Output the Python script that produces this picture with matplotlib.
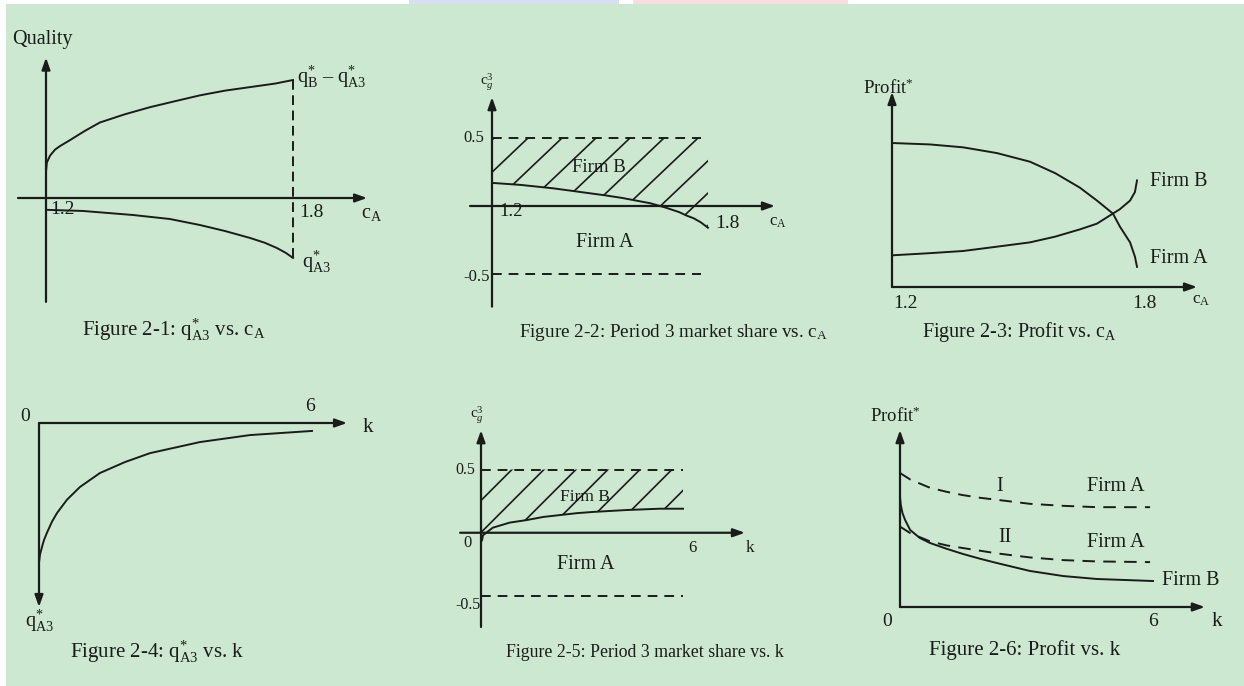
import numpy as np
import matplotlib.pyplot as plt
from matplotlib.collections import LineCollection
from matplotlib.patches import Rectangle

W, H = 1244, 686
BG = '#cde8d0'
INK = '#1a1c1a'

plt.rcParams['font.family'] = ['Liberation Serif', 'DejaVu Serif']
plt.rcParams['mathtext.fontset'] = 'custom'
plt.rcParams['mathtext.rm'] = 'Liberation Serif'
plt.rcParams['mathtext.it'] = 'Liberation Serif:italic'
plt.rcParams['lines.scale_dashes'] = False

# Figure 2-1: quality vs c_A
c_a1_up = [1.20, 1.202, 1.21, 1.222, 1.234, 1.258, 1.295, 1.331, 1.392, 1.453,
           1.513, 1.574, 1.635, 1.696, 1.757, 1.80]
q_gap_1 = [0.22, 0.30, 0.36, 0.41, 0.44, 0.49, 0.57, 0.64, 0.71, 0.77,
           0.82, 0.87, 0.91, 0.94, 0.97, 1.00]
c_a1_lo = [1.20, 1.29, 1.411, 1.501, 1.574, 1.635, 1.696, 1.732, 1.761, 1.783, 1.80]
q_a3_1 = [-0.10, -0.11, -0.144, -0.178, -0.229, -0.28, -0.339, -0.38, -0.424, -0.466, -0.508]

# Figure 2-2: period 3 market share vs c_A
c_a2 = [1.20, 1.28, 1.37, 1.44, 1.51, 1.56, 1.60, 1.64, 1.68, 1.72, 1.74, 1.76, 1.78, 1.80]
share_2 = [0.17, 0.155, 0.13, 0.105, 0.08, 0.06, 0.04, 0.02, -0.01, -0.045, -0.07, -0.09, -0.12, -0.16]

# Figure 2-3: profit vs c_A
c_a3 = [1.20, 1.293, 1.374, 1.457, 1.538, 1.60, 1.66, 1.702, 1.741, 1.758, 1.783, 1.795, 1.80]
profit_a3 = [1.00, 0.99, 0.97, 0.93, 0.87, 0.79, 0.69, 0.60, 0.51, 0.42, 0.31, 0.21, 0.14]
profit_b3 = [0.22, 0.235, 0.25, 0.28, 0.31, 0.35, 0.40, 0.44, 0.51, 0.54, 0.60, 0.66, 0.74]

# Figure 2-4: q*_A3 vs k
k4 = [0.0, 0.022, 0.066, 0.11, 0.176, 0.286, 0.396, 0.615, 0.90, 1.34, 1.89, 2.44, 3.54, 4.64, 6.0]
q_a3_4 = [-1.02, -0.96, -0.905, -0.854, -0.80, -0.72, -0.657, -0.56, -0.467, -0.365,
          -0.285, -0.22, -0.139, -0.088, -0.058]

# Figure 2-5: period 3 market share vs k
k5 = [0.03, 0.06, 0.35, 0.85, 1.35, 1.85, 2.35, 2.85, 3.35, 4.35, 5.3, 6.0]
share_5 = [-0.06, -0.02, 0.04, 0.08, 0.10, 0.125, 0.14, 0.155, 0.165, 0.18, 0.19, 0.19]

# Figure 2-6: profit vs k
k6 = [0.0, 0.25, 0.71, 1.1, 1.49, 1.9, 2.30, 3.08, 3.87, 4.67, 5.93]
profit_a6_1 = [1.00, 0.95, 0.89, 0.86, 0.835, 0.815, 0.80, 0.77, 0.755, 0.745, 0.745]
profit_a6_2 = [0.60, 0.55, 0.49, 0.46, 0.44, 0.42, 0.40, 0.37, 0.35, 0.34, 0.335]
k6b = [0.0, 0.02, 0.06, 0.12, 0.24, 0.47, 0.71, 1.1, 1.49, 1.9, 2.30, 3.08, 3.87, 4.67, 6.0]
profit_b6 = [0.82, 0.76, 0.70, 0.65, 0.575, 0.515, 0.478, 0.435, 0.396, 0.36, 0.328,
             0.269, 0.231, 0.209, 0.194]

fig = plt.figure(figsize=(W / 100, H / 100), dpi=100, facecolor='white')
fig.patches.append(Rectangle((6 / W, 0), 1 - 6 / W, 1 - 4 / H, transform=fig.transFigure,
                             facecolor=BG, edgecolor='none', zorder=-10))
fig.patches.append(Rectangle((409 / W, 1 - 4 / H), 210 / W, 4 / H, transform=fig.transFigure,
                             facecolor='#d6e0f0', edgecolor='none', zorder=-10))
fig.patches.append(Rectangle((633 / W, 1 - 4 / H), 215 / W, 4 / H, transform=fig.transFigure,
                             facecolor='#f8dde0', edgecolor='none', zorder=-10))


def panel(box, xref, yref):
    # box in pixels (left, top, right, bottom); refs map pixel -> data value
    l, t, r, b = box
    ax = fig.add_axes([l / W, 1 - b / H, (r - l) / W, (b - t) / H])
    (px0, v0), (px1, v1) = xref
    sx = (v1 - v0) / (px1 - px0)
    ax.set_xlim(v0 + (l - px0) * sx, v0 + (r - px0) * sx)
    (py0, w0), (py1, w1) = yref
    sy = (w1 - w0) / (py1 - py0)
    ax.set_ylim(w0 + (b - py0) * sy, w0 + (t - py0) * sy)
    ax.set_axis_off()
    ax.patch.set_visible(False)
    return ax


def arrow(ax, start, end):
    ax.annotate('', xy=end, xytext=start,
                arrowprops=dict(arrowstyle='-|>,head_length=0.7,head_width=0.25',
                                lw=1.6, color=INK, shrinkA=0, shrinkB=0))


def hatch(ax, x, lo, hi, anchor, step_px, slope):
    poly = ax.fill_between(x, lo, hi, facecolor='none', edgecolor='none')
    path = poly.get_paths()[0]
    bb = ax.get_window_extent()
    w, h = bb.width, bb.height
    u0 = ax.transAxes.inverted().transform(ax.transData.transform(anchor))
    du = step_px / w
    run = h / (slope * w)
    segs = []
    base = u0[0] - u0[1] * run
    for i in range(-60, 60):
        u = base + i * du
        if u + run < 0 or u > 1:
            continue
        segs.append([(u, 0), (u + run, 1)])
    lc = LineCollection(segs, colors=INK, linewidths=1.2, transform=ax.transAxes)
    lc.set_clip_path(path, ax.transData)
    ax.add_collection(lc)


def txt(ax, x, y, s, size=14.5, ha='center', va='center'):
    ax.text(x, y, s, fontsize=size, ha=ha, va=va, color=INK)


q_a3 = r'q$^{*}_{\mathrm{A3}}$'
c_a = r'c$_{\mathrm{A}}$'
dash = dict(dashes=(7, 5))

# ---- Figure 2-1
ax = panel((8, 20, 415, 350), ((46, 1.2), (293, 1.8)), ((198, 0), (80, 1.0)))
arrow(ax, (1.2, -0.88), (1.2, 1.19))
arrow(ax, (1.132, 0), (1.98, 0))
ax.plot(c_a1_up, q_gap_1, color=INK, lw=1.4)
ax.plot(c_a1_lo, q_a3_1, color=INK, lw=1.4)
ax.plot([1.8, 1.8], [1.0, -0.55], color=INK, lw=1.4, dashes=(7, 4))
txt(ax, 1.117, 1.34, 'Quality', ha='left')
txt(ax, 1.241, -0.10, '1.2', size=14)
txt(ax, 1.844, -0.127, '1.8', size=14)
txt(ax, 1.992, -0.13, c_a)
txt(ax, 1.81, 1.03, r'q$^{*}_{\mathrm{B}}$ – ' + q_a3, ha='left')
txt(ax, 1.822, -0.54, q_a3, ha='left')
txt(ax, 1.511, -1.12, 'Figure 2-1: ' + q_a3 + ' vs. ' + c_a, size=15)

# ---- Figure 2-2
ax = panel((440, 20, 836, 350), ((492, 1.2), (708, 1.8)), ((138, 0.5), (274, -0.5)))
arrow(ax, (1.2, -0.74), (1.2, 0.80))
arrow(ax, (1.139, 0), (1.986, 0))
ax.plot([1.2, 1.78], [0.5, 0.5], color=INK, lw=1.4, **dash)
ax.plot([1.2, 1.78], [-0.5, -0.5], color=INK, lw=1.4, **dash)
ax.plot(c_a2, share_2, color=INK, lw=1.4)
hatch(ax, c_a2, share_2, 0.5, (1.30, 0.5), 34, 0.95)
txt(ax, 1.178, 0.5, '0.5', size=12, ha='right')
txt(ax, 1.195, -0.52, '-0.5', size=12, ha='right')
txt(ax, 1.253, -0.044, '1.2', size=13.5)
txt(ax, 1.853, -0.13, '1.8', size=14)
txt(ax, 1.994, -0.12, c_a, size=12)
txt(ax, 1.497, 0.28, 'Firm B', size=13.5)
txt(ax, 1.514, -0.27, 'Firm A', size=14.5)
txt(ax, 1.186, 0.91, r'c$_{g}^{3}$', size=11)
txt(ax, 1.703, -0.93, 'Figure 2-2: Period 3 market share vs. ' + c_a, size=13.8)

# ---- Figure 2-3
ax = panel((840, 20, 1244, 350), ((892, 1.2), (1137, 1.8)), ((287, 0), (143, 1.0)))
arrow(ax, (1.2, 0), (1.2, 1.354))
arrow(ax, (1.2, 0), (1.947, 0))
ax.plot(c_a3, profit_a3, color=INK, lw=1.4)
ax.plot(c_a3, profit_b3, color=INK, lw=1.4)
txt(ax, 1.19, 1.38, r'Profit$^{*}$', size=13.5)
txt(ax, 1.832, 0.73, 'Firm B', ha='left')
txt(ax, 1.832, 0.20, 'Firm A', ha='left')
txt(ax, 1.234, -0.118, '1.2', size=14)
txt(ax, 1.817, -0.118, '1.8', size=14)
txt(ax, 1.957, -0.09, c_a, size=12.5)
txt(ax, 1.513, -0.3125, 'Figure 2-3: Profit vs. ' + c_a)

# ---- Figure 2-4
ax = panel((8, 356, 415, 686), ((39, 0), (312, 6)), ((423, 0), (560, -1.0)))
arrow(ax, (0, 0), (6.77, 0))
arrow(ax, (0, 0), (0, -1.343))
ax.plot(k4, q_a3_4, color=INK, lw=1.4)
txt(ax, -0.308, 0.044, '0', size=14)
txt(ax, 5.96, 0.117, '6', size=14)
txt(ax, 7.23, -0.03, 'k', size=15)
txt(ax, 0.02, -1.44, q_a3)
txt(ax, 2.59, -1.67, 'Figure 2-4: ' + q_a3 + ' vs. k', size=15)

# ---- Figure 2-5
ax = panel((420, 356, 830, 686), ((481, 0), (683, 6)), ((469.5, 0.5), (596, -0.5)))
arrow(ax, (0, -0.745), (0, 0.81))
arrow(ax, (-0.62, 0), (7.84, 0))
ax.plot([0, 6.0], [0.5, 0.5], color=INK, lw=1.4, **dash)
ax.plot([0, 6.0], [-0.5, -0.5], color=INK, lw=1.4, **dash)
ax.plot(k5, share_5, color=INK, lw=1.4)
hatch(ax, [0.0] + k5, [0.0] + share_5, 0.5, (0.92, 0.5), 32, 1.0)
txt(ax, -0.18, 0.5, '0.5', size=11.5, ha='right')
txt(ax, -0.02, -0.57, '-0.5', size=11.5, ha='right')
txt(ax, -0.39, -0.08, '0', size=12)
txt(ax, 6.27, -0.12, '6', size=12)
txt(ax, 7.99, -0.12, 'k', size=12.5)
txt(ax, 3.09, 0.28, 'Firm B', size=12.5)
txt(ax, 3.12, -0.25, 'Firm A', size=14.5)
txt(ax, -0.12, 0.93, r'c$_{g}^{3}$', size=11)
txt(ax, 4.87, -0.95, 'Figure 2-5: Period 3 market share vs. k', size=12.8)

# ---- Figure 2-6
ax = panel((830, 356, 1244, 686), ((900, 0), (1153, 6)), ((607, 0), (473, 1.0)))
arrow(ax, (0, 0), (0, 1.32))
arrow(ax, (0, 0), (7.23, 0))
ax.plot(k6, profit_a6_1, color=INK, lw=1.4, dashes=(9, 6))
ax.plot(k6, profit_a6_2, color=INK, lw=1.4, dashes=(9, 6))
ax.plot(k6b, profit_b6, color=INK, lw=1.4)
txt(ax, -0.12, 1.42, r'Profit$^{*}$', size=13.5)
txt(ax, -0.31, -0.11, '0', size=14)
txt(ax, 6.0, -0.11, '6', size=14)
txt(ax, 7.52, -0.11, 'k', size=15)
txt(ax, 2.37, 0.896, 'I')
txt(ax, 2.49, 0.52, 'II')
txt(ax, 5.12, 0.896, 'Firm A')
txt(ax, 5.12, 0.478, 'Firm A')
txt(ax, 6.21, 0.20, 'Firm B', ha='left')
txt(ax, 2.96, -0.32, 'Figure 2-6: Profit vs. k', size=15)

fig.savefig('out.png', dpi=100, facecolor=fig.get_facecolor())
